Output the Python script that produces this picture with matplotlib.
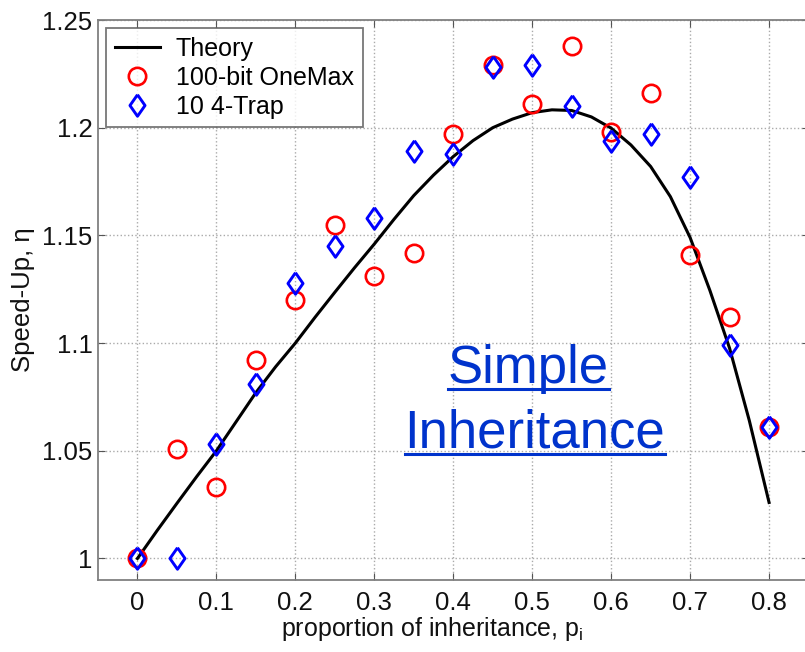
import numpy as np
import matplotlib.pyplot as plt

plt.rcParams['font.family'] = ['Liberation Sans', 'DejaVu Sans']

# theory curve
theory_p = [0.0, 0.025, 0.05, 0.075, 0.1, 0.125, 0.15, 0.175, 0.2, 0.225, 0.25, 0.275,
            0.3, 0.325, 0.35, 0.375, 0.4, 0.425, 0.45, 0.475, 0.5, 0.525, 0.55, 0.575,
            0.6, 0.625, 0.65, 0.675, 0.7, 0.725, 0.75, 0.775, 0.8]
theory_eta = [1.0, 1.013, 1.0256, 1.038, 1.050, 1.0635, 1.077, 1.089, 1.100, 1.112, 1.1236, 1.135,
              1.146, 1.1575, 1.1685, 1.178, 1.1866, 1.194, 1.2, 1.204, 1.207, 1.2083, 1.208, 1.205,
              1.1998, 1.192, 1.182, 1.168, 1.149, 1.1245, 1.0976, 1.064, 1.026]

p_data = [0.0, 0.05, 0.1, 0.15, 0.2, 0.25, 0.3, 0.35, 0.4, 0.45, 0.5, 0.55, 0.6, 0.65, 0.7, 0.75, 0.8]
onemax = [1.0, 1.051, 1.033, 1.092, 1.120, 1.155, 1.131, 1.142, 1.197, 1.229, 1.211, 1.238,
          1.198, 1.216, 1.141, 1.112, 1.061]
trap = [1.0, 1.0, 1.053, 1.081, 1.128, 1.145, 1.158, 1.189, 1.188, 1.228, 1.229, 1.210,
        1.194, 1.197, 1.177, 1.099, 1.061]

xticks = [0, 0.1, 0.2, 0.3, 0.4, 0.5, 0.6, 0.7, 0.8]
yticks = [1.0, 1.05, 1.1, 1.15, 1.2, 1.25]

# matlab-like diamond, a bit wider than 'd'
diamond = [(0, 1), (0.7, 0), (0, -1), (-0.7, 0), (0, 1)]

fig = plt.figure(figsize=(8.05, 6.52), dpi=100)
ax = fig.add_axes([0.1217, 0.1104, 0.8827, 0.8589])

ax.plot(theory_p, theory_eta, color='black', lw=2.2, label='Theory', zorder=3)
ax.plot(p_data, onemax, 'o', ls='none', mfc='none', mec='#ff0000', mew=1.9, ms=12.5,
        label='100-bit OneMax', zorder=4)
ax.plot(p_data, trap, marker=diamond, ls='none', mfc='none', mec='#0000ff', mew=2.1, ms=15.5,
        label='10 4-Trap', zorder=5)

ax.set_xlim(-0.05, 0.85)
ax.set_ylim(0.99, 1.25)
ax.set_xticks(xticks)
ax.set_xticklabels(['%g' % t for t in xticks])
ax.set_yticks(yticks)
ax.set_yticklabels(['%g' % t for t in yticks])
ax.tick_params(direction='in', top=True, right=True, length=5, color='#555555',
               labelsize=18.5, labelcolor='#111111')
ax.tick_params(axis='x', pad=8)
ax.tick_params(axis='y', pad=4)
ax.grid(True, ls=':', color='#aaaaaa', lw=1)
for s in ax.spines.values():
    s.set_color('#808080')
    s.set_linewidth(1.3)

ax.set_xlabel('proportion of inheritance, p$_\\mathregular{i}$', fontsize=18, color='#111111',
              ha='left', va='top')
ax.xaxis.set_label_coords(0.258, -0.062)
ax.set_ylabel('Speed-Up, \u03b7', fontsize=18.5, color='#111111')
ax.yaxis.set_label_coords(-0.088, 0.5)

leg = ax.legend(loc='upper left', fontsize=18, frameon=True, fancybox=False,
                edgecolor='#555555', borderpad=0.35, labelspacing=0.2,
                handlelength=1.8, handletextpad=0.65, borderaxespad=0,
                bbox_to_anchor=(0.011, 0.986))
leg.get_frame().set_linewidth(1.3)

# big underlined annotation
blue = '#0033cc'
t1 = ax.text(0.606, 0.352, 'Simple', transform=ax.transAxes, fontsize=38, color=blue,
             ha='center', va='baseline')
t2 = ax.text(0.615, 0.2375, 'Inheritance', transform=ax.transAxes, fontsize=38, color=blue,
             ha='center', va='baseline')
fig.canvas.draw()
r = fig.canvas.get_renderer()
inv = fig.transFigure.inverted()
for t in (t1, t2):
    bb = t.get_window_extent(r)
    base = ax.transAxes.transform(t.get_position())[1] - 6.5
    (fx0, fy), (fx1, _) = inv.transform([(bb.x0, base), (bb.x1, base)])
    fig.add_artist(plt.Line2D([fx0, fx1], [fy, fy], color=blue, lw=2.2))

fig.savefig('out.png', dpi=100)
